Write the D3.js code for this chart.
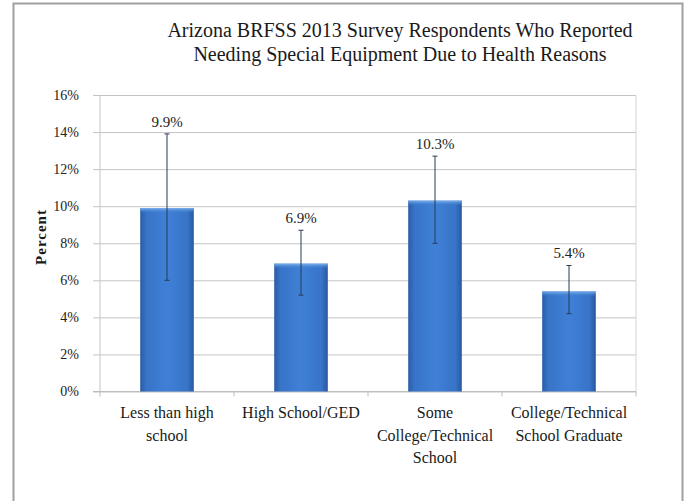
<!DOCTYPE html>
<html>
<head>
<meta charset="utf-8">
<script src="https://cdn.jsdelivr.net/npm/d3@7/dist/d3.min.js"></script>
<style>
  html, body { margin: 0; padding: 0; background: #fff; }
  svg { display: block; }
</style>
</head>
<body>
<svg id="chart" width="686" height="501"></svg>
<script>
// Education level categories
const categories = [
  ["Less than high", "school"],
  ["High School/GED"],
  ["Some", "College/Technical", "School"],
  ["College/Technical", "School Graduate"]
];
// Percent reporting need for special equipment
const values = [9.9, 6.9, 10.3, 5.4];
// 95% confidence interval bounds
const lower = [6.0, 5.2, 8.0, 4.2];
const upper = [13.9, 8.7, 12.7, 6.8];
const yTicks = [0, 2, 4, 6, 8, 10, 12, 14, 16];
const titleLines = [
  "Arizona BRFSS 2013 Survey Respondents Who Reported",
  "Needing Special Equipment Due to Health Reasons"
];

const SERIF = "'Liberation Serif', 'Times New Roman', serif";
const svg = d3.select("#chart");
const plot = { left: 100, right: 636, top: 95, bottom: 391.5 };

// outer chart frame
svg.append("rect")
  .attr("x", 13.5).attr("y", 3.5)
  .attr("width", 669).attr("height", 510)
  .attr("fill", "#fff")
  .attr("stroke", "#a0a0a0").attr("stroke-width", 2);

const x = d3.scaleBand()
  .domain(d3.range(categories.length))
  .range([plot.left, plot.right])
  .padding(0);

const y = d3.scaleLinear()
  .domain([0, 16])
  .range([plot.bottom, plot.top]);

// gradients for the bevelled bars
const defs = svg.append("defs");
const gh = defs.append("linearGradient").attr("id", "barH")
  .attr("x1", "0%").attr("x2", "100%").attr("y1", "0%").attr("y2", "0%");
gh.append("stop").attr("offset", "0%").attr("stop-color", "#2a5ca6");
gh.append("stop").attr("offset", "12%").attr("stop-color", "#3874c8");
gh.append("stop").attr("offset", "50%").attr("stop-color", "#3f80d6");
gh.append("stop").attr("offset", "88%").attr("stop-color", "#3874c8");
gh.append("stop").attr("offset", "100%").attr("stop-color", "#2858a0");
const gt = defs.append("linearGradient").attr("id", "barTop")
  .attr("x1", "0%").attr("x2", "0%").attr("y1", "0%").attr("y2", "100%");
gt.append("stop").attr("offset", "0%").attr("stop-color", "#7fb2ea");
gt.append("stop").attr("offset", "100%").attr("stop-color", "#3f80d6").attr("stop-opacity", 0);

// y gridlines with small outward ticks
const yAxis = d3.axisLeft(y)
  .tickValues(yTicks)
  .tickFormat(d => d + "%")
  .tickSize(-(plot.right - plot.left + 7))
  .tickSizeOuter(0)
  .tickPadding(14);
const yg = svg.append("g")
  .attr("transform", `translate(${plot.left - 7},0)`)
  .call(yAxis)
  .attr("font-family", SERIF)
  .attr("font-size", 14);
yg.select(".domain").remove();
yg.selectAll(".tick line").attr("stroke", "#c4c4c4").attr("stroke-width", 1);
yg.selectAll(".tick text").attr("fill", "#222").attr("x", -14);

// left axis line and right plot border
svg.append("line")
  .attr("x1", plot.left).attr("x2", plot.left)
  .attr("y1", plot.top).attr("y2", plot.bottom)
  .attr("stroke", "#c4c4c4");
svg.append("line")
  .attr("x1", plot.right).attr("x2", plot.right)
  .attr("y1", plot.top).attr("y2", plot.bottom)
  .attr("stroke", "#d4d4d4");

// x axis line with category boundary ticks
const xg = svg.append("g");
xg.append("line")
  .attr("x1", plot.left - 7).attr("x2", plot.right)
  .attr("y1", plot.bottom).attr("y2", plot.bottom)
  .attr("stroke", "#bdbdbd");
xg.selectAll("line.tk")
  .data(d3.range(categories.length + 1))
  .join("line")
  .attr("class", "tk")
  .attr("x1", i => plot.left + i * x.step())
  .attr("x2", i => plot.left + i * x.step())
  .attr("y1", plot.bottom).attr("y2", plot.bottom + 5)
  .attr("stroke", "#bdbdbd");

// bars
const barW = x.bandwidth() * 0.4;
const bars = svg.append("g");
values.forEach((v, i) => {
  const bx = x(i) + (x.bandwidth() - barW) / 2;
  bars.append("rect")
    .attr("x", bx).attr("y", y(v))
    .attr("width", barW).attr("height", y(0) - y(v))
    .attr("fill", "url(#barH)");
  bars.append("rect")
    .attr("x", bx).attr("y", y(v))
    .attr("width", barW).attr("height", 5)
    .attr("fill", "url(#barTop)");
});

// error bars
const err = svg.append("g").attr("stroke", "#2a3a55").attr("stroke-width", 1);
values.forEach((v, i) => {
  const cx = x(i) + x.bandwidth() / 2;
  err.append("line")
    .attr("x1", cx).attr("x2", cx)
    .attr("y1", y(upper[i])).attr("y2", y(lower[i]));
  [upper[i], lower[i]].forEach(b => {
    err.append("line")
      .attr("x1", cx - 2.5).attr("x2", cx + 2.5)
      .attr("y1", y(b)).attr("y2", y(b));
  });
});

// value labels above error bars
svg.append("g").selectAll("text")
  .data(values)
  .join("text")
  .attr("x", (d, i) => x(i) + x.bandwidth() / 2)
  .attr("y", (d, i) => y(upper[i]) - 7)
  .attr("text-anchor", "middle")
  .attr("font-family", SERIF)
  .attr("font-size", 15)
  .attr("fill", "#222")
  .text(d => d.toFixed(1) + "%");

// category labels
const cl = svg.append("g");
categories.forEach((lines, i) => {
  const t = cl.append("text")
    .attr("x", x(i) + x.bandwidth() / 2)
    .attr("y", 418)
    .attr("text-anchor", "middle")
    .attr("font-family", SERIF)
    .attr("font-size", 16)
    .attr("fill", "#1a1a1a");
  lines.forEach((ln, j) => {
    t.append("tspan")
      .attr("x", x(i) + x.bandwidth() / 2)
      .attr("dy", j === 0 ? 0 : 22.5)
      .text(ln);
  });
});

// y axis title
svg.append("text")
  .attr("transform", "translate(41,237) rotate(-90)")
  .attr("dy", "0.35em")
  .attr("text-anchor", "middle")
  .attr("font-family", SERIF)
  .attr("font-size", 15)
  .attr("font-weight", "bold")
  .attr("letter-spacing", 1)
  .attr("fill", "#1a1a1a")
  .text("Percent");

// chart title
const title = svg.append("text")
  .attr("text-anchor", "middle")
  .attr("font-family", SERIF)
  .attr("font-size", 20)
  .attr("fill", "#1a1a1a");
titleLines.forEach((ln, j) => {
  title.append("tspan")
    .attr("x", 400)
    .attr("y", 37 + j * 23.5)
    .text(ln);
});
</script>
</body>
</html>
